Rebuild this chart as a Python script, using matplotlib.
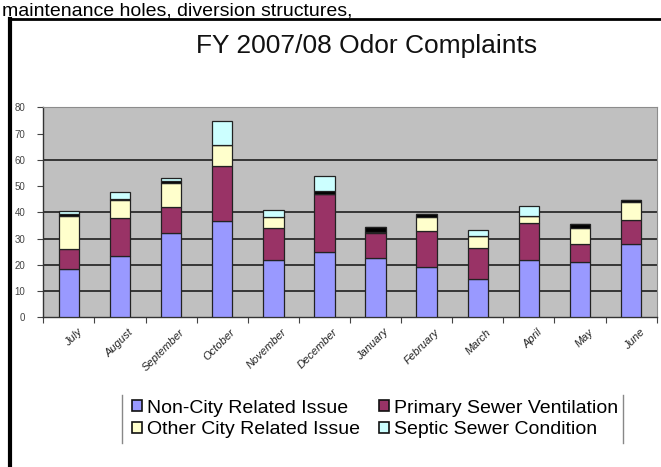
import matplotlib
matplotlib.use("Agg")
import matplotlib.pyplot as plt
import numpy as np
from matplotlib.lines import Line2D
from matplotlib.patches import Patch
from matplotlib.transforms import ScaledTranslation

# data
months = ["July", "August", "September", "October", "November", "December",
          "January", "February", "March", "April", "May", "June"]
non_city = [18.5, 23.5, 32, 36.5, 22, 25, 22.7, 19, 14.5, 22, 21, 28]
primary_vent = [7.5, 14.5, 10, 21, 12, 22, 9.3, 14, 12, 14, 7, 9]
other_city = [12.7, 6.7, 9, 8.3, 4.4, 0, 0.6, 5.3, 4.3, 2.5, 6.1, 7]
unlabeled = [0.5, 0.5, 0.8, 0, 0, 1.2, 1.8, 0.9, 0, 0, 1.6, 0.6]
septic = [1.4, 2.7, 1.2, 9.1, 2.5, 5.7, 0, 0, 2.3, 3.8, 0, 0]

series = [("Non-City Related Issue", non_city, "#9999FF"),
          ("Primary Sewer Ventilation", primary_vent, "#993366"),
          ("Other City Related Issue", other_city, "#FFFFCC"),
          ("_nolegend_", unlabeled, "#000000"),
          ("Septic Sewer Condition", septic, "#CCFFFF")]
grid_levels = [10, 20, 30, 40, 60]

plt.rcParams["font.family"] = ["Liberation Sans", "DejaVu Sans"]

fig = plt.figure(figsize=(6.61, 4.67), dpi=100)
ax = fig.add_axes([43.3 / 661, 1 - 317.3 / 467, 613.4 / 661, 210 / 467])
ax.set_facecolor("#C0C0C0")

x = np.arange(len(months))
bottom = np.zeros(len(months))
for name, vals, col in series:
    ax.bar(x, vals, 0.4, bottom=bottom, color=col, edgecolor="#222222",
           linewidth=0.9, zorder=3)
    bottom += np.array(vals)

for g in grid_levels:
    ax.axhline(g, color="#111111", lw=1.1, zorder=1)

ax.set_xlim(-0.5, len(months) - 0.5)
ax.set_ylim(0, 80)
ax.set_yticks(range(0, 81, 10))
ax.tick_params(axis="y", direction="out", length=4, width=0.8, colors="#444444",
               labelsize=7, pad=9)
ax.set_xticks(x)
ax.set_xticks(np.arange(-0.5, len(months), 1), minor=True)
ax.tick_params(axis="x", which="major", length=0, pad=7)
ax.tick_params(axis="x", which="minor", direction="out", length=4, width=0.8,
               color="#444444")
ax.set_xticklabels(months, rotation=45, ha="right", va="top",
                   rotation_mode="anchor", fontsize=8, style="italic",
                   color="#222222")
off = ScaledTranslation(8 / 100, 0, fig.dpi_scale_trans)
for lab in ax.get_xticklabels():
    lab.set_transform(lab.get_transform() + off)

for s in ["top", "right"]:
    ax.spines[s].set_color("#8c8c8c")
    ax.spines[s].set_linewidth(0.8)
for s in ["left", "bottom"]:
    ax.spines[s].set_color("#333333")
    ax.spines[s].set_linewidth(1.0)

# title and page text
fig.text(367 / 661, 1 - 46 / 467, "FY 2007/08 Odor Complaints", ha="center",
         va="center", fontsize=19, color="#111111")
fig.text(2 / 661, 1 - 15 / 467, "maintenance holes, diversion structures,",
         ha="left", va="baseline", fontsize=14, color="#000000")

# page frame
fig.add_artist(Line2D([9.5 / 661, 9.5 / 661], [0, 1 - 19 / 467], color="black",
                      lw=3, transform=fig.transFigure))
fig.add_artist(Line2D([9.5 / 661, 1], [1 - 19 / 467, 1 - 19 / 467],
                      color="black", lw=2, transform=fig.transFigure))

# legend
handles = [Patch(facecolor=c, edgecolor="#111111", linewidth=1.2, label=n)
           for n, v, c in series if not n.startswith("_")]
order = [0, 2, 1, 3]
leg = fig.legend([handles[i] for i in order], [handles[i].get_label() for i in order],
                 ncol=2, frameon=False, fontsize=14, loc="center",
                 bbox_to_anchor=(375 / 661, 1 - 419 / 467),
                 handlelength=0.5, handleheight=0.5, handletextpad=0.25,
                 columnspacing=1.0, labelspacing=0.25, borderpad=0.2)
for xx in [122, 623]:
    fig.add_artist(Line2D([xx / 661, xx / 661], [1 - 443 / 467, 1 - 395 / 467],
                          color="#888888", lw=1, transform=fig.transFigure))

fig.savefig("out.png", dpi=100)
